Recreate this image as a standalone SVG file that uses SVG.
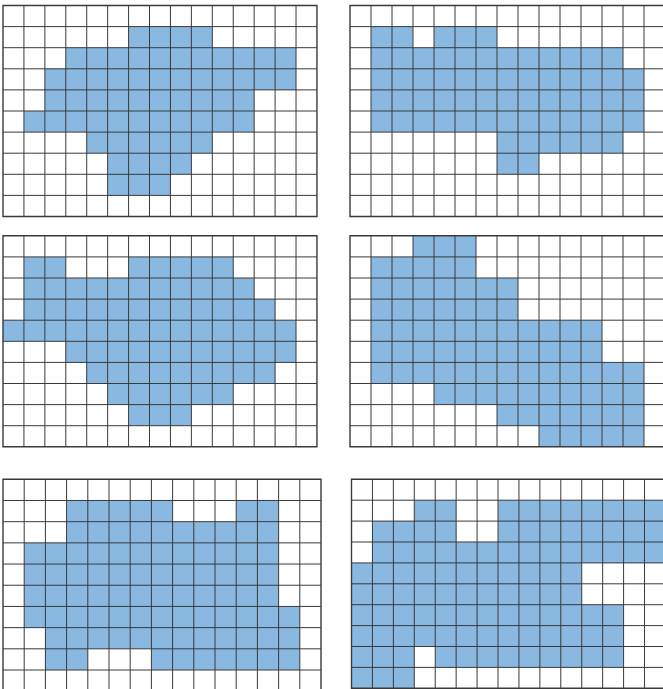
<svg xmlns="http://www.w3.org/2000/svg" xmlns:xlink="http://www.w3.org/1999/xlink" width="663" height="689" viewBox="0 0 663 689">
<style>
.fill{fill:#89b8e1;stroke:none}
.grid{fill:none;stroke:#3a3a3a;stroke-width:1;vector-effect:non-scaling-stroke}
.border{fill:none;stroke:#3a3a3a;stroke-width:1.4;vector-effect:non-scaling-stroke}
</style>
<defs>
<path id="gridlines" class="grid" d="M1 0V10M2 0V10M3 0V10M4 0V10M5 0V10M6 0V10M7 0V10M8 0V10M9 0V10M10 0V10M11 0V10M12 0V10M13 0V10M14 0V10M0 1H15M0 2H15M0 3H15M0 4H15M0 5H15M0 6H15M0 7H15M0 8H15M0 9H15"/>
<rect id="frame" class="border" x="0" y="0" width="15" height="10"/>
</defs>
<rect width="663" height="689" fill="#ffffff"/>
<g id="panel1" transform="translate(3,5.5) scale(20.93,21.1)">
<path class="fill" d="M6 1h4v1h-4zM3 2h11v1h-11zM2 3h12v1h-12zM2 4h10v1h-10zM1 5h11v1h-11zM4 6h6v1h-6zM5 7h4v1h-4zM5 8h3v1h-3z"/>
<use xlink:href="#gridlines"/><use xlink:href="#frame"/>
</g>
<g id="panel2" transform="translate(350,5.5) scale(21,21.1)">
<path class="fill" d="M1 1h2v1h-2zM4 1h3v1h-3zM1 2h12v1h-12zM1 3h13v3h-13zM7 6h6v1h-6zM7 7h2v1h-2z"/>
<use xlink:href="#gridlines"/><use xlink:href="#frame"/>
</g>
<g id="panel3" transform="translate(3,235.8) scale(20.93,21.1)">
<path class="fill" d="M1 1h2v1h-2zM6 1h5v1h-5zM1 2h11v1h-11zM1 3h12v1h-12zM0 4h14v1h-14zM3 5h11v1h-11zM4 6h9v1h-9zM5 7h6v1h-6zM6 8h3v1h-3z"/>
<use xlink:href="#gridlines"/><use xlink:href="#frame"/>
</g>
<g id="panel4" transform="translate(350,235.8) scale(21,21.1)">
<path class="fill" d="M3 0h3v1h-3zM1 1h5v1h-5zM1 2h7v2h-7zM1 4h11v2h-11zM1 6h13v1h-13zM4 7h10v1h-10zM7 8h7v1h-7zM9 9h5v1h-5z"/>
<use xlink:href="#gridlines"/><use xlink:href="#frame"/>
</g>
<g id="panel5" transform="translate(3,479.3) scale(21.2,21.19)">
<path class="fill" d="M3 1h5v1h-5zM11 1h2v1h-2zM3 2h10v1h-10zM1 3h12v3h-12zM1 6h13v1h-13zM2 7h12v1h-12zM2 8h2v1h-2zM7 8h7v1h-7z"/>
<use xlink:href="#gridlines"/><use xlink:href="#frame"/>
</g>
<g id="panel6" transform="translate(351.5,479.3) scale(20.93,20.9)">
<path class="fill" d="M3 1h2v1h-2zM7 1h8v1h-8zM1 2h4v1h-4zM7 2h8v1h-8zM1 3h14v1h-14zM0 4h11v2h-11zM0 6h13v2h-13zM0 8h3v1h-3zM4 8h9v1h-9zM0 9h3v1h-3z"/>
<use xlink:href="#gridlines"/><use xlink:href="#frame"/>
</g>
</svg>
